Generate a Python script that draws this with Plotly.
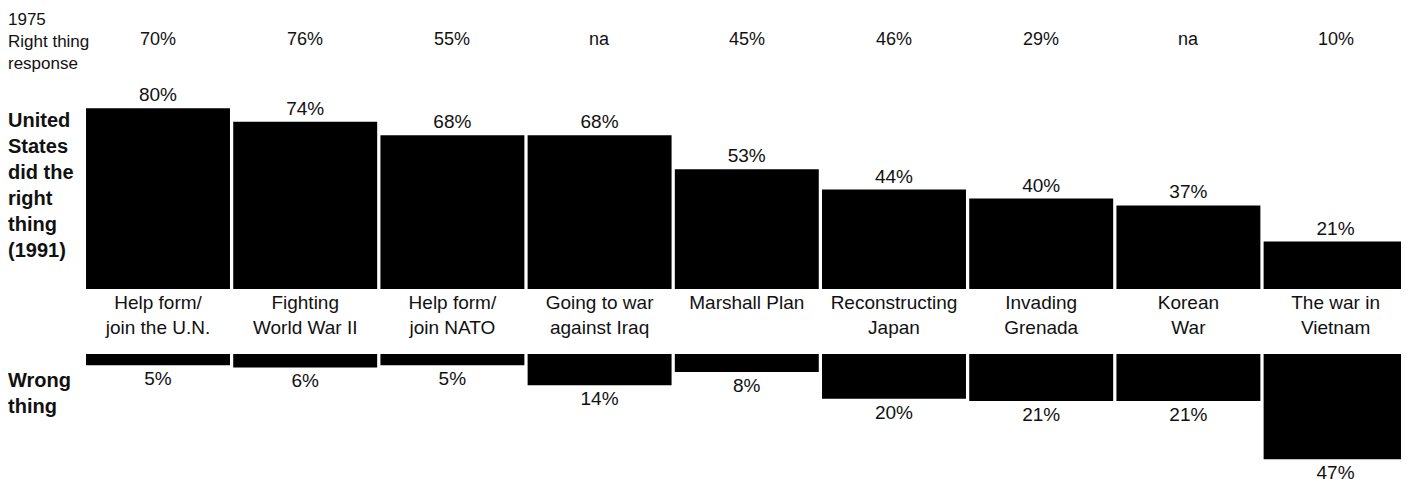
import plotly.graph_objects as go

# survey data
events = ["Help form/<br>join the U.N.", "Fighting<br>World War II", "Help form/<br>join NATO",
          "Going to war<br>against Iraq", "Marshall Plan", "Reconstructing<br>Japan",
          "Invading<br>Grenada", "Korean<br>War", "The war in<br>Vietnam"]
right_1991 = [80, 74, 68, 68, 53, 44, 40, 37, 21]
wrong_1991 = [5, 6, 5, 14, 8, 20, 21, 21, 47]
right_1975 = ["70%", "76%", "55%", "na", "45%", "46%", "29%", "na", "10%"]

# the page body adds an 8px margin, so the figure is 8px smaller than the window
W, H = 1401, 471
FONT = "Liberation Sans, Arial, sans-serif"
INK = "#111111"
TOP_PX = 2.26      # pixels per percent, upper panel
BOT_PX = 2.24      # pixels per percent, lower panel
top_base = 281     # pixel row of the upper baseline (figure coords)
bot_base = 346     # pixel row of the lower baseline

fig = go.Figure()

fig.add_trace(go.Bar(
    x=events, y=right_1991,
    text=[f"{v}%" for v in right_1991], textposition="outside",
    textfont=dict(size=19, color=INK, family=FONT),
    marker=dict(color="black", line=dict(width=0)),
    cliponaxis=False, xaxis="x", yaxis="y",
))
fig.add_trace(go.Bar(
    x=events, y=wrong_1991,
    text=[f"{v}%" for v in wrong_1991], textposition="outside",
    textfont=dict(size=19, color=INK, family=FONT),
    marker=dict(color="black", line=dict(width=0)),
    cliponaxis=False, xaxis="x2", yaxis="y2",
))

# 1975 row
for ev, t in zip(events, right_1975):
    fig.add_annotation(x=ev, xref="x", y=1 - 31 / H, yref="paper", text=t,
                       showarrow=False, yanchor="middle",
                       font=dict(size=18, color=INK, family=FONT))

left = dict(x=0, xref="paper", xshift=-2, showarrow=False, xanchor="left",
            yanchor="middle", align="left", yref="paper")
fig.add_annotation(y=1 - 34 / H, text="1975<br>Right thing<br>response",
                   font=dict(size=17, color=INK, family=FONT), **left)
fig.add_annotation(y=1 - 177 / H,
                   text="<b>United<br>States<br>did the<br>right<br>thing<br>(1991)</b>",
                   font=dict(size=20, color=INK, family=FONT), **left)
fig.add_annotation(y=1 - 385 / H, text="<b>Wrong<br>thing</b>",
                   font=dict(size=20, color=INK, family=FONT), **left)

pitch = 147.2
c0 = 150
xr = [-c0 / pitch, (W - c0) / pitch]

fig.update_layout(
    width=W, height=H,
    margin=dict(l=0, r=0, t=0, b=0),
    paper_bgcolor="white", plot_bgcolor="white",
    showlegend=False, bargap=0.022,
    font=dict(family=FONT, color=INK),
    xaxis=dict(range=xr, anchor="y", showgrid=False, zeroline=False, showline=False,
               ticks="", tickfont=dict(size=19, color=INK, family=FONT),
               ticklabelstandoff=0),
    xaxis2=dict(range=xr, anchor="y2", matches="x", showticklabels=False,
                showgrid=False, zeroline=False, showline=False),
    yaxis=dict(domain=[1 - top_base / H, 1], range=[0, top_base / TOP_PX],
               visible=False),
    yaxis2=dict(domain=[0, 1 - bot_base / H], range=[(H - bot_base) / BOT_PX, 0],
                visible=False),
)

fig.write_html("out.html")
